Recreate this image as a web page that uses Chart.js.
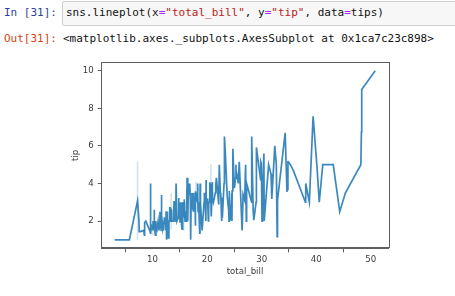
<!DOCTYPE html>
<html>
<head>
<meta charset="utf-8">
<script src="https://cdn.jsdelivr.net/npm/chart.js@4.4.0/dist/chart.umd.min.js"></script>
<style>
body { margin: 0; width: 455px; height: 296px; background: #fff; overflow: hidden; position: relative;
       font-family: "DejaVu Sans Mono", "Liberation Mono", monospace; font-size: 11px; }
.line { position: absolute; line-height: 14px; white-space: pre; }
#in-prompt { left: 4px; top: 6px; color: #303F9F; }
#out-prompt { left: 4px; top: 31.5px; color: #D84315; }
#inbox { position: absolute; left: 62px; top: 1px; width: 400px; height: 23px; background: #f7f7f7;
         border: 1px solid #cfcfcf; border-radius: 2px; }
#code { left: 66px; top: 6px; color: #111; }
#out { left: 63px; top: 31.5px; color: #111; }
.op { color: #AA22FF; }
.str { color: #BA2121; }
#chart { position: absolute; left: 0; top: 0; }
</style>
</head>
<body>
<div class="line" id="in-prompt">In [31]:</div>
<div id="inbox"></div>
<div class="line" id="code">sns.lineplot(x<span class="op">=</span><span class="str">"total_bill"</span>, y<span class="op">=</span><span class="str">"tip"</span>, data<span class="op">=</span>tips)</div>
<div class="line" id="out-prompt">Out[31]:</div>
<div class="line" id="out">&lt;matplotlib.axes._subplots.AxesSubplot at 0x1ca7c23c898&gt;</div>
<canvas id="chart" width="455" height="296"></canvas>
<script>
// tips dataset (seaborn) - colunas usadas no gráfico
const totalBill = [
  16.99,10.34,21.01,23.68,24.59,25.29,8.77,26.88,15.04,14.78,
  10.27,35.26,15.42,18.43,14.83,21.58,10.33,16.29,16.97,20.65,
  17.92,20.29,15.77,39.42,19.82,17.81,13.37,12.69,21.7,19.65,
  9.55,18.35,15.06,20.69,17.78,24.06,16.31,16.93,18.69,31.27,
  16.04,17.46,13.94,9.68,30.4,18.29,22.23,32.4,28.55,18.04,
  12.54,10.29,34.81,9.94,25.56,19.49,38.01,26.41,11.24,48.27,
  20.29,13.81,11.02,18.29,17.59,20.08,16.45,3.07,20.23,15.01,
  12.02,17.07,26.86,25.28,14.73,10.51,17.92,27.2,22.76,17.29,
  19.44,16.66,10.07,32.68,15.98,34.83,13.03,18.28,24.71,21.16,
  28.97,22.49,5.75,16.32,22.75,40.17,27.28,12.03,21.01,12.46,
  11.35,15.38,44.3,22.42,20.92,15.36,20.49,25.21,18.24,14.31,
  14.0,7.25,38.07,23.95,25.71,17.31,29.93,10.65,12.43,24.08,
  11.69,13.42,14.26,15.95,12.48,29.8,8.52,14.52,11.38,22.82,
  19.08,20.27,11.17,12.26,18.26,8.51,10.33,14.15,16.0,13.16,
  17.47,34.3,41.19,27.05,16.43,8.35,18.64,11.87,9.78,7.51,
  14.07,13.13,17.26,24.55,19.77,29.85,48.17,25.0,13.39,16.49,
  21.5,12.66,16.21,13.81,17.51,24.52,20.76,31.71,10.59,10.63,
  50.81,15.81,7.25,31.85,16.82,32.9,17.89,14.48,9.6,34.63,
  34.65,23.33,45.35,23.17,40.55,20.69,20.9,30.46,18.15,23.1,
  15.69,19.81,28.44,15.48,16.58,7.56,10.34,43.11,13.0,13.51,
  18.71,12.74,13.0,16.4,20.53,16.47,26.59,38.73,24.27,12.76,
  30.06,25.89,48.33,13.27,28.17,12.9,28.15,11.59,7.74,30.14,
  12.16,13.42,8.58,15.98,13.42,16.27,10.09,20.45,13.28,22.12,
  24.01,15.69,11.61,10.77,15.53,10.07,12.6,32.83,35.83,29.03,
  27.18,22.67,17.82,18.78
];
const tip = [
  1.01,1.66,3.5,3.31,3.61,4.71,2.0,3.12,1.96,3.23,
  1.71,5.0,1.57,3.0,3.02,3.92,1.67,3.71,3.5,3.35,
  4.08,2.75,2.23,7.58,3.18,2.34,2.0,2.0,4.3,3.0,
  1.45,2.5,3.0,2.45,3.27,3.6,2.0,3.07,2.31,5.0,
  2.24,2.54,3.06,1.32,5.6,3.0,5.0,6.0,2.05,3.0,
  2.5,2.6,5.2,1.56,4.34,3.51,3.0,1.5,1.76,6.73,
  3.21,2.0,1.98,3.76,2.64,3.15,2.47,1.0,2.01,2.09,
  1.97,3.0,3.14,5.0,2.2,1.25,3.08,4.0,3.0,2.71,
  3.0,3.4,1.83,5.0,2.03,5.17,2.0,4.0,5.85,3.0,
  3.0,3.5,1.0,4.3,3.25,4.73,4.0,1.5,3.0,1.5,
  2.5,3.0,2.5,3.48,4.08,1.64,4.06,4.29,3.76,4.0,
  3.0,1.0,4.0,2.55,4.0,3.5,5.07,1.5,1.8,2.92,
  2.31,1.68,2.5,2.0,2.52,4.2,1.48,2.0,2.0,2.18,
  1.5,2.83,1.5,2.0,3.25,1.25,2.0,2.0,2.0,2.75,
  3.5,6.7,5.0,5.0,2.3,1.5,1.36,1.63,1.73,2.0,
  2.5,2.0,2.74,2.0,2.0,5.14,5.0,3.75,2.61,2.0,
  3.5,2.5,2.0,2.0,3.0,3.48,2.24,4.5,1.61,2.0,
  10.0,3.16,5.15,3.18,4.0,3.11,2.0,2.0,4.0,3.55,
  3.68,5.65,3.5,6.5,3.0,5.0,3.5,2.0,3.5,4.0,
  1.5,4.19,2.56,2.02,4.0,1.44,2.0,5.0,2.0,2.0,
  4.0,2.01,2.0,2.5,4.0,3.23,3.41,3.0,2.03,2.23,
  2.0,5.16,9.0,2.5,6.5,1.1,3.0,1.5,1.44,3.09,
  2.2,3.48,1.92,3.0,1.58,2.5,2.0,3.0,2.72,2.88,
  2.0,3.0,3.39,1.47,3.0,1.25,1.0,1.17,4.67,5.92,
  2.0,2.0,1.75,3.0
];
const xTicks = [10, 20, 30, 40, 50];
const yTicks = [2, 4, 6, 8, 10];

// agrupa por total_bill (média), como o lineplot do seaborn
const grupos = new Map();
totalBill.forEach((x, i) => {
    if (!grupos.has(x)) grupos.set(x, []);
    grupos.get(x).push(tip[i]);
});
const xs = [...grupos.keys()].sort((a, b) => a - b);
const media = xs.map(x => {
    const v = grupos.get(x);
    return { x: x, y: v.reduce((s, t) => s + t, 0) / v.length };
});
// intervalo só onde há mais de uma observação
const intervalo = xs.filter(x => grupos.get(x).length > 1).map(x => {
    const v = grupos.get(x);
    return { x: x, y: [Math.min(...v), Math.max(...v)] };
});

const fonte = { family: 'DejaVu Sans', size: 8.6 };
const corTexto = '#3a3a3a';
const corEixo = '#5e5e5e';

const moldura = {
    id: 'moldura',
    afterDraw(chart) {
        const a = chart.chartArea;
        const c = chart.ctx;
        c.save();
        c.strokeStyle = corEixo;
        c.lineWidth = 1;
        c.strokeRect(Math.round(a.left) - 0.5, Math.round(a.top) + 0.5,
                     Math.round(a.right - a.left) + 1, Math.round(a.bottom - a.top) - 1);
        c.restore();
    }
};

new Chart(document.getElementById('chart').getContext('2d'), {
    type: 'line',
    data: {
        datasets: [
            {
                type: 'line',
                data: media,
                borderColor: 'rgba(31,119,180,0.88)',
                borderWidth: 1.7,
                pointRadius: 0,
                tension: 0,
                fill: false,
                order: 1
            },
            {
                type: 'bar',
                data: intervalo,
                backgroundColor: 'rgba(31,119,180,0.2)',
                barThickness: 1,
                order: 2
            }
        ]
    },
    options: {
        responsive: false,
        animation: false,
        devicePixelRatio: 1,
        layout: { padding: { left: 71, right: 66.7, top: 62.3, bottom: 19.3 } },
        plugins: { legend: { display: false }, tooltip: { enabled: false } },
        scales: {
            x: {
                type: 'linear',
                min: 0.68,
                max: 53.2,
                offset: false,
                afterBuildTicks: s => { s.ticks = xTicks.map(v => ({ value: v })); },
                afterFit: s => { s.height = 28.4; },
                ticks: { color: corTexto, font: fonte, padding: 2, maxRotation: 0, autoSkip: false },
                grid: { drawOnChartArea: false, tickLength: 4, tickColor: corEixo, tickWidth: 1 },
                border: { color: corEixo, width: 1 },
                title: { display: true, text: 'total_bill', color: corTexto, font: fonte, padding: 0 }
            },
            y: {
                type: 'linear',
                min: 0.55,
                max: 10.45,
                afterBuildTicks: s => { s.ticks = yTicks.map(v => ({ value: v })); },
                afterFit: s => { s.width = 30.7; },
                ticks: { color: corTexto, font: fonte, padding: 4 },
                grid: { drawOnChartArea: false, tickLength: 4, tickColor: corEixo, tickWidth: 1 },
                border: { color: corEixo, width: 1 },
                title: { display: true, text: 'tip', color: corTexto, font: fonte, padding: 0 }
            }
        }
    },
    plugins: [moldura]
});
</script>
</body>
</html>
